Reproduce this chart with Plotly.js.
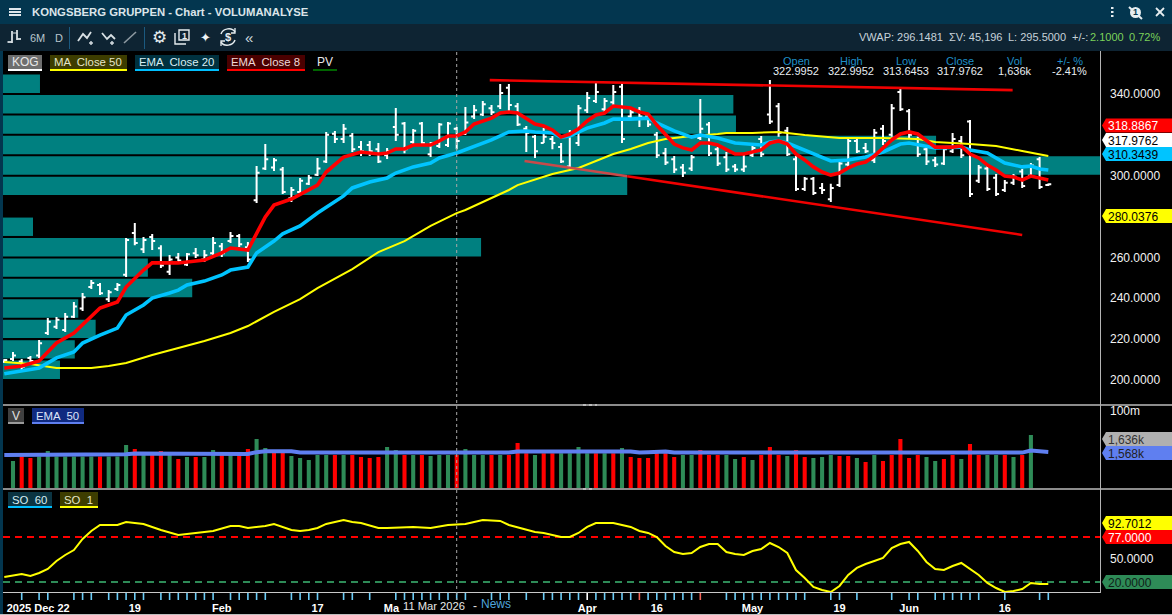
<!DOCTYPE html>
<html><head><meta charset="utf-8">
<script src="https://cdn.plot.ly/plotly-3.0.1.min.js"></script>
<style>html,body{margin:0;padding:0;background:#000;overflow:hidden}#c{width:1172px;height:615px}</style>
</head><body><div id="c"></div>
<script>
// ---- price bars (index 0..120) ----
const high=[210.3,213.7,210.3,211.7,219.6,230.3,230.8,232.8,238.2,242.6,
248.9,247.5,244,247.5,269.5,276.8,270,271.5,266,261.2,
262.2,262.2,264.6,263.6,270,267,272.4,271.5,267.5,304.7,
315.5,308.7,304.3,294.5,298.9,300.3,308.7,321.4,321.9,325.3,
320.9,317,317,316,313.6,333.1,326.3,322.9,326.3,316.5,
325.8,326.3,323.8,333.6,334.6,336.6,334.6,344.9,344.9,335.6,
324.3,319.9,323.3,319.4,316,322.4,334.6,341,345.4,338,
344.4,345.4,332.6,333.6,330.7,321.4,313.6,309.6,305.7,310.1,
337.5,326.3,314,311.6,305.7,310.1,314.5,319.4,346.8,335.6,
323.8,309.6,299.4,299.4,296.4,296,308.2,318.4,318,316,
322.9,324.8,335.1,342.9,332.6,319,315,309.1,314,320.9,
319.4,327.3,305.2,304.7,300.8,297.9,300.8,303.3,306.2,309.1,296.2];
const low=[208.3,209.3,204.9,208.3,210.8,222,225,223.5,230.3,233.8,
244.5,241.6,238.2,243.6,250.4,266,262.2,263.6,254.8,251.4,
257.3,255.8,259.7,257.8,261.2,260.2,267,265.1,257.8,286.6,
302.8,302.3,291,287.1,291.5,295.4,299.8,306.2,316,316,
311.6,309.6,309.6,306.2,308.2,317,311,315.5,315,309.1,
313.6,314,313,319.9,327.7,329.2,329.7,332.6,330.7,324.3,
311.6,308.7,316,313,306.2,303.3,314.5,330.7,335.6,331.2,
334.6,316,327.3,323.8,323.8,308.7,305.2,301.3,299.4,302.3,
317.5,309.6,304.7,301.8,301.8,301.8,309.1,309.1,325.3,319,
309.6,292.5,292.5,290.5,291,287.1,294.5,304.3,311.1,311.1,
306.2,315,319,331.7,318.4,309.1,305.2,304.3,305.2,311.1,
308.7,289.6,296.4,292.5,290,292,295.4,294,298.9,293.5,295];
const open=[209,210.3,209,210.8,212,223,226,224.5,231,235,
245.5,246.5,239.5,244.5,251.5,272,264,270,264.5,253,
260,256.5,262,259,262,265.5,268,270.5,265,288,
303.5,304,303,289,292,296,300.5,307,320.5,318,
319.5,314,315,313,310,323.8,325.5,316.5,325.5,310.5,
314.5,315,323,320.5,329,330,333,334,343,334,
323,319,316,318,314,304.5,316,332,336.5,332.5,
336,343.5,329,332,329,320,311,308,304,303.5,
318.5,325,313,309,304.5,303,310,318,330,334,
322,308,293.5,298.5,294,288.5,295.5,305.5,317,313.5,
307.5,323,320,341,331.5,318,313,307.5,306,312,
317,326.5,297.5,303.5,299,293,296.5,302,300,308,295.5];
const close=[209.8,212,206.5,209.3,218,228.5,229.5,231,236,240.5,
247.5,242.5,243,246.5,268.5,267,268.5,268,256,259,
258.5,261.5,261,261,267,262,270.5,266.5,259,301.5,
308,307.5,292,293,297.5,299,303.5,320,318,323,
313,312,312,307,312,320,313,322,316,316,
325,325.5,317,326,332,335,331,340.5,334.6,325,
321,312,319,316,307,321,333,338,341,336.5,
341,318,331,329,325,310,306.5,303,301.5,309,
323,311,306,303,303,304.5,313.5,310.5,326.5,321,
310.5,293.5,298.5,291.5,293,294,306,317,312,312,
321,317,333,332.5,320,310.5,307,305.5,313,318,
310,291,304,293.5,291,296.5,299.5,295,305,294.5,295.8];

// ---- moving averages, read at the marked bars ----
const ema8X=[0,2,4,6,8,10,11,13,14,16,17,20,23,25,26,28,29,30,31,33,36,37,39,41,43,44,45,46,47,49,50,51,52,53,54,55,56,57,58,59,60,61,62,63,64,65,66,67,68,69,70,71,72,73,74,75,76,77,78,79,80,81,82,83,84,85,86,87,88,89,90,91,92,93,94,95,96,97,98,99,100,101,102,103,104,105,106,107,108,109,110,111,112,113,114,115,116,117,118,119,120];
const ema8=[205.9,206.8,209.3,218.1,223,230.8,235.2,238.2,245.5,253.8,257.3,257.3,258.7,262.2,264.6,263.6,271.9,279.8,285.6,288.6,295.4,301.8,309.1,311.6,310.6,311.1,313.1,313.1,315,315,317,319.4,319.4,321.4,325.3,326.8,328.2,330.7,331.2,330.7,328.2,325.3,324.3,322.4,318.9,320.4,322.9,326.8,329.7,330.7,334.1,333.6,333.1,331.2,330.2,324.8,319.9,315.5,313.6,312.6,316,316,315,312.6,310.6,310.6,311.6,312.6,316,317,315.5,310.6,307.7,304.3,301.8,300.3,301.3,303.8,305.7,306.7,309.6,313.6,317.5,320.4,321.4,320.4,317,314,314,314,314.5,310.6,308.7,305.2,302.8,299.8,299.4,297.9,299.8,298.9,297.9];
const ema20X=[0,2,4,6,8,9,11,13,14,16,17,19,20,21,23,25,26,28,29,31,32,34,36,39,40,42,44,45,47,49,50,52,54,56,58,60,61,63,64,65,67,69,70,72,74,75,77,79,80,82,84,86,87,88,89,90,92,94,95,97,99,101,103,104,106,107,110,111,113,115,117,118,119,120];
const ema20=[203,204.4,205.9,210.8,213.7,218.1,222,225.4,231.8,236.7,240.1,242.6,244,246.5,248.4,251.4,253.8,255.3,262.2,268,271.5,275.4,281.7,290.1,294,296.9,298.9,301.3,304.3,306.2,308.7,311.1,314.5,317.5,321.4,321.9,321.4,320.9,318.9,319.4,323.3,325.8,327.7,327.7,328.2,325.8,321.9,318.9,319.9,318.4,316,315.5,315,316.5,317,316,312.6,309.1,307.2,307.7,309.1,311.6,315.5,316,314.5,313.6,314,312.6,311.1,306.2,304.3,304.7,303.3,302.8];
const ma50X=[0,3,6,10,12,14,17,20,23,26,28,31,34,36,40,43,46,49,52,53,58,59,63,66,70,72,74,76,79,82,83,86,89,92,96,99,101,105,107,111,114,117,120];
const ma50=[208.8,207.8,205.9,205.9,206.8,208.3,212.2,215.6,219.1,223,226.4,233.3,239.6,245,254.3,262.6,268,275.4,281.7,283.2,293,295.4,300.8,303.8,310.6,313.1,316,318,319.4,320.4,320.9,320.9,321.4,319.9,318.4,318.4,318.4,318,316.5,315.5,314.5,312.1,309.6];

// ---- volume profile ----
const pvPrice=[345,335,325,315,305,295,275,265,255,245,235,225,215,205];
const pvSize=[4.25,83.95,84.25,107.25,126.1,71.75,3.45,54.95,16.65,21.75,8.65,10.65,8.25,6.55];

// ---- trend lines ----
const upperX=[55.8,115.9], upperY=[346.8,341.9];
const lowerAX=[59.8,71.6], lowerAY=[307.2,299.7];
const lowerBX=[71.6,117], lowerBY=[299.7,271];

// ---- volume (thousands), index 1..120 ----
const volume=[710,1100,960,1100,1920,1100,1100,1100,1100,1100,
1100,1100,1100,3470,2340,1290,1290,1920,1290,870,
1060,1060,1060,2120,1290,1290,1290,2340,6300,2580,
2120,2120,1170,960,790,1290,1290,1290,1290,1290,
1060,960,1060,2850,2120,1290,1290,1290,1170,1290,
1290,1290,2340,1290,1290,1290,1290,1290,4200,1530,
1290,1530,1530,1530,1530,2850,1530,1530,1530,1530,
2580,1060,960,960,1530,1530,1060,1290,1290,2120,
1290,1290,1290,870,1060,790,1290,2850,1290,1170,
2120,1060,960,1060,1290,1170,1170,960,650,1290,
710,1290,6300,960,1290,1060,710,870,1290,870,
3840,1290,1290,1290,1290,1060,1290,9300,1530,46];
const volSide=("grrggggggg"+"rgggrgrrgr"+"grggrgrrgg"+"rrgggggrgr"+"rrrgg"+
 "rgrgggrggg"+"rgrrrgrrgg"+"ggrgrgrrrr"+"rrggrrrggr"+"g"+
 "rrrgrrgggr"+"rgrgrrrrrg"+"grrgrrggrg"+"rg").split('');
const volEmaX=[0,13,14,15,20,28,29,30,33,34,58,59,72,73,74,75,76,77,95,97,100,102,106,107,110,111,117,118,119,120];
const volEma=[1290,1290,1380,1500,1430,1430,1700,1860,1860,1630,1630,1800,1800,1650,1700,1800,1800,1630,1630,1480,1480,1580,1580,1480,1480,1630,1630,1985,1860,1738];

// ---- stochastic ----
const soX=[0,2,3,4,5,6,7,8,9,10,11,13,14,16,18,20,22,24,26,27,28,30,31,33,34,35,36,37,39,40,41,43,44,47,49,51,53,55,57,58,61,62,64,65,66,67,68,70,72,73,74,75,76,77,78,79,80,81,82,83,84,85,86,87,88,89,90,91,92,93,94,95,96,97,98,99,100,101,102,103,104,105,106,107,108,109,110,111,112,113,114,115,116,117,118,119,120];
const so=[26.4,30.2,27.6,31.4,36.5,46.6,54.2,60.5,74.5,84.6,92.2,92.2,96,93.5,85.9,79.5,82.1,84.6,90.9,90.9,88.4,90.9,93.5,85.9,84.6,85.9,88.4,93.5,98.5,96,94.7,88.4,88.4,89.7,88.4,92.2,93.5,98.5,97.3,92.2,83.3,82.1,77,77,82.1,89.7,94.7,94.7,89.7,84.6,82.1,77,65.6,58,55.5,56.7,64.3,68.1,68.1,58,55.5,54.2,59.3,61.8,69.4,64.3,56.7,35.2,25.1,13.7,9.9,7.4,15,28.9,37.8,42.8,46.6,50.4,63.1,68.1,70.7,59.3,45.4,36.5,35.2,40.3,44.1,36.5,28.9,18.8,12.4,7.4,8.6,11.2,18.8,17.5,17.5];
const soHigh=[77], soLow=[20];

// ---- time axis ----
const labelAt=[3.9,15,25,36,44.5,67,75,86,96,104,115];
const labelText=["2025 Dec 22","19","Feb","17","Ma","Apr","16","May","19","Jun","16"];
const tickAt=[2,4,5,8,9,10,12,13,14,15,16,18,19,20,21,22,23,24,26,27,28,29,30,33,34,35,36,39,40,42,45,46,47,48,49,50,51,52,53,56,57,58,60,62,63,64,65,66,67,68,69,70,71,72,73,74,75,76,77,78,79,80,83,84,85,86,87,88,89,90,91,92,95,96,98,102,104,105,107,108,109,110,111,112,115,119,120];
const tickRed=[73,80], tickWhite=[67];
const crossAt=52;

// ---- geometry helpers ----
const W=1172,H=615;
const fx=p=>p/W, fy=p=>1-p/H;
const xPlot=[3,1100];
const SANS='"Liberation Sans", Arial, sans-serif';
const nAtPx=p=>(p-4.3)/8.7;
const idx=high.map((_,i)=>i);
const dom=(a,b)=>[1-b/H,1-a/H];

function path(d){
  return d.replace(/(-?[\d.]+) (-?[\d.]+)/g,(m,a,b)=>fx(+a).toFixed(5)+','+fy(+b).toFixed(5));
}
const rect=(x0,y0,x1,y1,fill)=>({type:'rect',xref:'paper',yref:'paper',x0:fx(x0),x1:fx(x1),y0:fy(y0),y1:fy(y1),fillcolor:fill,line:{width:0},layer:'above'});
const stroke=(d,color,w,extra)=>Object.assign({type:'path',xref:'paper',yref:'paper',path:path(d),line:{color:color,width:w},layer:'above'},extra||{});
const fillp=(d,color)=>({type:'path',xref:'paper',yref:'paper',path:path(d),fillcolor:color,line:{width:0},layer:'above'});
const T=(text,x,y,color,size,anchor,extra)=>Object.assign({text:text,x:fx(x),y:fy(y),xref:'paper',yref:'paper',xanchor:anchor||'left',yanchor:'middle',showarrow:false,font:{family:SANS,size:size||12,color:color||'#fff'},borderpad:0,borderwidth:0},extra||{});

const shapes=[], notes=[];
// frame
shapes.push(rect(0,0,W,24,'#03364f'));
shapes.push(rect(0,24,W,51,'#0e2433'));
shapes.push(rect(0,51,3,615,'#03364f'));
shapes.push(rect(0,614,W,615,'#bdbdbd'));
shapes.push(rect(3,404,W,406,'#8c8c8c'));
shapes.push(rect(3,488,W,490,'#8c8c8c'));
shapes.push(rect(3,592,1100.5,593,'#c8c8c8'));
shapes.push(rect(1100,51,1101,593,'#b4b4b4'));
shapes.push(stroke('M583 405 L597 405','#eaeaea',1,{line:{color:'#eaeaea',width:1,dash:'dot'}}));
shapes.push(stroke('M583 489 L595 489','#eaeaea',1,{line:{color:'#eaeaea',width:1,dash:'dot'}}));
shapes.push({type:'line',xref:'x',yref:'paper',x0:crossAt,x1:crossAt,y0:fy(52),y1:fy(600),line:{color:'#a8a8a8',width:1,dash:'dot'},layer:'above'});
// title bar
shapes.push(stroke('M9 9 L21 9','#dfe7ec',2), stroke('M9 12 L21 12','#dfe7ec',2), stroke('M9 15 L21 15','#dfe7ec',2));
notes.push(T('<b>KONGSBERG GRUPPEN - Chart - VOLUMANALYSE</b>',32,12,'#dbe5ea',11.3));
[8,12,16].forEach(y=>shapes.push(rect(1111,y-1,1113.5,y+1,'#e6edf0')));
shapes.push({type:'circle',xref:'paper',yref:'paper',x0:fx(1130),x1:fx(1141),y0:fy(18),y1:fy(7),fillcolor:'#e6edf0',line:{width:0},layer:'above'});
shapes.push(stroke('M1129 7 L1142 19','#e6edf0',2));
notes.push(T('<b>1</b>',1135.5,12.5,'#03364f',9,'center'));
shapes.push(stroke('M1156 8 L1164 16','#e6edf0',1.8), stroke('M1164 8 L1156 16','#e6edf0',1.8));
// tool bar
shapes.push(stroke('M12 31 L12 43','#d8e0e4',1.8), stroke('M7.5 42 L12 42','#d8e0e4',1.8), stroke('M17 30 L17 40','#d8e0e4',1.8), stroke('M17 39 L21 39','#d8e0e4',1.8), stroke('M13 33 L17 33','#d8e0e4',1));
notes.push(T('6M',37.5,37.5,'#b7c4cc',11,'center'), T('D',58.5,37.5,'#b7c4cc',11,'center'));
shapes.push(rect(69,27,70,49,'#1b5a80'), rect(144,27,145,49,'#1b5a80'));
shapes.push(stroke('M78 41 L83 34 L87 38 L91 32','#d8e0e4',1.8), stroke('M89 43 L93 43','#d8e0e4',1.4), stroke('M91 41 L91 45','#d8e0e4',1.4));
shapes.push(stroke('M102 33 L107 39 L111 35 L115 39','#d8e0e4',1.8), stroke('M110 43 L114 43','#d8e0e4',1.4), stroke('M112 41 L112 45','#d8e0e4',1.4));
shapes.push(stroke('M124 43 L136 32','#8e9aa2',1.6));
notes.push(T('⚙',159,37,'#e6edf0',17,'center',{font:{family:'DejaVu Sans',size:17,color:'#e6edf0'}}));
shapes.push(stroke('M179 30 L189 30 L189 40 L179 40 Z','#e6edf0',1.4), stroke('M175 33 L175 44 L186 44','#e6edf0',1.4));
notes.push(T('<b>1</b>',184,35.5,'#e6edf0',9,'center'));
notes.push(T('✦',205,37,'#f0f4f6',13,'center',{font:{family:'DejaVu Sans',size:13,color:'#f0f4f6'}}));
shapes.push(stroke('M221 34 C223 28 232 27 235 32 M235 40 C233 46 224 47 221 42','#e6edf0',1.5), stroke('M235 28 L235 33 L231 33','#e6edf0',1.3), stroke('M221 46 L221 41 L225 41','#e6edf0',1.3));
notes.push(T('<b>$</b>',228,37,'#e6edf0',11,'center'));
notes.push(T('«',249,37,'#cfd9df',15,'center'));
// toolbar right
const hdr=[['VWAP: 296.1481',859,'#c6d2da'],['ΣV: 45,196',949,'#c6d2da'],['L: 295.5000',1008,'#c6d2da'],['+/-:',1072,'#c6d2da'],['2.1000',1090,'#7bd25a'],['0.72%',1129,'#7bd25a']];
hdr.forEach(h=>notes.push(T(h[0],h[1],37,h[2],11)));
// OHLC read-out
[['Open','322.9952',796],['High','322.9952',851],['Low','313.6453',906],['Close','317.9762',960],['Vol','1,636k',1015],['+/- %','-2.41%',1069.5]].forEach(r=>{
  notes.push(T(r[0],r[2],60.5,'#1f8fc7',11,'center'), T(r[1],r[2],70.5,'#e8eef2',11,'center'));
});
// legend chips
function chip(x0,x1,y,text,fill,line,tc,w,size){
  if(fill) shapes.push(rect(x0,y,x1,y+14,fill));
  shapes.push(rect(x0,y+14,x1,y+16,line));
  notes.push(T(text,x0+(w||4),y+7.5,tc||'#e8e8e8',size||11.4));
}
chip(8,42,55,'KOG','#6e6e6e','#ffffff','#e8e8e8',4,12);
chip(50,127,55,'MA  Close 50','#3d3d00','#ffff00','#e6e6c8',4);
chip(135,219,55,'EMA  Close 20','#00313f','#00bfff','#d8eef4',4);
chip(227,305,55,'EMA  Close 8','#4a0000','#ff0000','#f0d8d8',4);
chip(313,337,55,'PV',null,'#006400','#e8e8e8',4,12);
chip(8,24,408,'V','#404040','#9a9a9a','#e0e0e0',4,12);
chip(32,84,408,'EMA  50','#102a80','#5f7ff0','#dde4f8',4);
chip(8,52,492,'SO  60','#0b3442','#00bfff','#d8eef4',4);
chip(60,98,492,'SO  1','#3d3d00','#ffff00','#e6e6c8',4);
// price tags
function tag(y,fill,text,tc){
  shapes.push(fillp(`M1102 ${y} L1106 ${y-7} L1172 ${y-7} L1172 ${y+7} L1106 ${y+7} Z`,fill));
  notes.push(T(text,1108,y+0.5,tc,12));
}
tag(125.5,'#ff0000','318.8867','#ffffff');
tag(140,'#ffffff','317.9762','#000000');
tag(154,'#00c4ff','310.3439','#000000');
tag(216,'#ffff00','280.0376','#000000');
tag(439,'#b0b0b0','1,636k','#333333');
tag(453,'#5f7ff0','1,568k','#222222');
tag(523,'#ffff00','92.7012','#000000');
tag(537,'#ff0000','77.0000','#ffffff');
tag(582,'#2e8b57','20.0000','#102018');
// crosshair date
notes.push(T('11 Mar 2026',403,605.5,'#e8e8e8',11.2,'left'));
notes.push(T('-',475,605.5,'#e0e0e0',12,'center'));
notes.push(T('News',481,604,'#4fa6dc',12));

const volColors=[null].concat(volSide).map(c=>c==='g'?'#2e8b57':'#ff0000');
const tickColors=tickAt.map(n=>tickRed.includes(n)?'#f0655a':tickWhite.includes(n)?'#ffffff':'#6ccdf8');

const traces=[
 {type:'bar',orientation:'h',name:'PV',y:pvPrice,x:pvSize,base:pvSize.map(()=>nAtPx(xPlot[0])),width:pvPrice.map(()=>9),marker:{color:'#008080',line:{width:0}},xaxis:'x',yaxis:'y'},
 {type:'ohlc',name:'KOG',x:idx,open:open,high:high,low:low,close:close,tickwidth:0.34,increasing:{line:{color:'#ffffff',width:2}},decreasing:{line:{color:'#ffffff',width:2}},xaxis:'x',yaxis:'y'},
 {type:'scatter',mode:'lines',name:'MA Close 50',x:ma50X,y:ma50,line:{color:'#ffff00',width:2},xaxis:'x',yaxis:'y'},
 {type:'scatter',mode:'lines',name:'EMA Close 20',x:ema20X,y:ema20,line:{color:'#00c4ff',width:3.6},xaxis:'x',yaxis:'y'},
 {type:'scatter',mode:'lines',name:'EMA Close 8',x:ema8X,y:ema8,line:{color:'#ff0000',width:3.6},xaxis:'x',yaxis:'y'},
 {type:'scatter',mode:'lines',name:'Upper',x:upperX,y:upperY,line:{color:'#f00000',width:2.6},xaxis:'x',yaxis:'y'},
 {type:'scatter',mode:'lines',name:'LowerA',x:lowerAX,y:lowerAY,line:{color:'#c84a4a',width:2.6},xaxis:'x',yaxis:'y'},
 {type:'scatter',mode:'lines',name:'LowerB',x:lowerBX,y:lowerBY,line:{color:'#f00000',width:2.6},xaxis:'x',yaxis:'y'},
 {type:'bar',name:'V',x:idx,y:[null].concat(volume),width:0.47,marker:{color:volColors,line:{width:0}},xaxis:'x',yaxis:'y2'},
 {type:'scatter',mode:'lines',name:'EMA 50',x:volEmaX,y:volEma,line:{color:'#5f7ff0',width:4},xaxis:'x',yaxis:'y2'},
 {type:'scatter',mode:'lines',name:'SO high',x:[nAtPx(xPlot[0]),nAtPx(xPlot[1])],y:[soHigh[0],soHigh[0]],line:{color:'#ff0000',width:2,dash:'7px,5px'},xaxis:'x',yaxis:'y3'},
 {type:'scatter',mode:'lines',name:'SO low',x:[nAtPx(xPlot[0]),nAtPx(xPlot[1])],y:[soLow[0],soLow[0]],line:{color:'#2e8b57',width:2,dash:'7px,5px'},xaxis:'x',yaxis:'y3'},
 {type:'scatter',mode:'lines',name:'SO 1',x:soX,y:so,line:{color:'#ffff00',width:2},xaxis:'x',yaxis:'y3'},
 {type:'scatter',mode:'markers',name:'ticks',x:tickAt,y:tickAt.map(()=>0.5),marker:{symbol:'line-ns',size:7,color:tickColors,line:{width:1.6,color:tickColors}},xaxis:'x',yaxis:'y4'}
];

const yBase={showgrid:false,zeroline:false,showline:false,ticks:'',anchor:'x',side:'right',ticklabelposition:'outside',ticklabelstandoff:9,tickfont:{family:SANS,size:12,color:'#f2f2f2'},fixedrange:true};
const layout={
 width:W,height:H,autosize:false,showlegend:false,hovermode:false,
 margin:{l:0,r:0,t:0,b:0,pad:0,autoexpand:false},
 paper_bgcolor:'#000000',plot_bgcolor:'#000000',barmode:'overlay',dragmode:false,
 xaxis:{domain:[fx(xPlot[0]),fx(xPlot[1])],range:[nAtPx(xPlot[0]),nAtPx(xPlot[1])],anchor:'y4',showgrid:false,zeroline:false,showline:false,ticks:'',
   tickmode:'array',tickvals:labelAt,ticktext:labelText.map(t=>'<b>'+t+'</b>'),tickangle:0,tickfont:{family:SANS,size:11,color:'#ffffff'},rangeslider:{visible:false},fixedrange:true},
 yaxis:Object.assign({},yBase,{domain:dom(52,404),range:[386-0.4895*404,386-0.4895*52],tickmode:'array',tickvals:[340,300,260,240,220,200],ticktext:['340.0000','300.0000','260.0000','240.0000','220.0000','200.0000']}),
 yaxis2:Object.assign({},yBase,{domain:dom(406,489),type:'log',range:[1.652,5.21],tickmode:'array',tickvals:[100000],ticktext:['100m']}),
 yaxis3:Object.assign({},yBase,{domain:dom(491,593),range:[6.1,135.2],tickmode:'array',tickvals:[50],ticktext:['50.0000']}),
 yaxis4:{domain:dom(593,600),range:[0,1],anchor:'x',showgrid:false,zeroline:false,showticklabels:false,ticks:'',fixedrange:true},
 shapes:shapes,annotations:notes
};
Plotly.newPlot('c',traces,layout,{displayModeBar:false,staticPlot:true});
</script></body></html>
